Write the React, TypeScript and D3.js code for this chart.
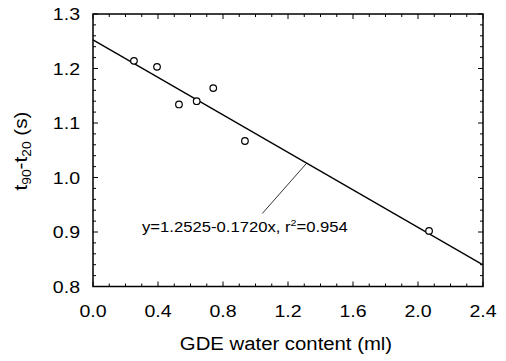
import React from "react";
import * as d3 from "d3";

const xValues = [0.252, 0.394, 0.529, 0.638, 0.740, 0.935, 2.068];
const yValues = [1.214, 1.203, 1.134, 1.140, 1.164, 1.067, 0.902];
const xTicks = [0.0, 0.4, 0.8, 1.2, 1.6, 2.0, 2.4];
const yTicks = [0.8, 0.9, 1.0, 1.1, 1.2, 1.3];
const fitIntercept = 1.2525;
const fitSlope = -0.172;
const leaderX = [1.315, 1.042];
const leaderY = [1.2525 - 0.172 * 1.315, 0.934];

const W = 506;
const H = 361;
const FONT = "'Liberation Sans', Arial, Helvetica, sans-serif";

function SText(props: {
  x: number; y: number; sx?: number; size: number; anchor?: string; rotate?: number; children: React.ReactNode;
}) {
  const { x, y, sx = 1.15, size, anchor = "start", rotate = 0, children } = props;
  return (
    <text
      transform={`translate(${x},${y}) rotate(${rotate}) scale(${sx},1)`}
      fontSize={size}
      fontFamily={FONT}
      textAnchor={anchor}
      fill="#000"
    >
      {children}
    </text>
  );
}

export default function App() {
  const x = d3.scaleLinear().domain([0, 2.4]).range([93, 483]);
  const y = d3.scaleLinear().domain([0.8, 1.3]).range([286.5, 14]);

  const xMinor = d3.range(0, 2.4001, 0.1);
  const yMinor = d3.range(0.8, 1.3001, 0.02);
  const isMajor = (v: number, step: number) => Math.abs(v / step - Math.round(v / step)) < 1e-6;

  const fitLine = d3.line<number>().x((d) => x(d)).y((d) => y(fitIntercept + fitSlope * d));
  const [x0, x1] = x.range();
  const [y0, y1] = y.range();

  return (
    <svg width={W} height={H} style={{ position: "absolute", left: 0, top: 0, background: "#fff" }}>
      <rect x={0} y={0} width={W} height={H} fill="#fff" />
      {/* ticks */}
      {xMinor.map((v, i) => {
        const len = isMajor(v, 0.4) ? 5 : 3;
        return (
          <g key={"xt" + i} stroke="#000" strokeWidth={1}>
            <line x1={x(v)} x2={x(v)} y1={y0} y2={y0 - len} />
            <line x1={x(v)} x2={x(v)} y1={y1} y2={y1 + len} />
          </g>
        );
      })}
      {yMinor.map((v, i) => {
        const len = isMajor(v, 0.1) ? 5 : 3;
        return (
          <g key={"yt" + i} stroke="#000" strokeWidth={1}>
            <line x1={x0} x2={x0 + len} y1={y(v)} y2={y(v)} />
            <line x1={x1} x2={x1 - len} y1={y(v)} y2={y(v)} />
          </g>
        );
      })}
      {/* frame */}
      <rect x={x0} y={y1} width={x1 - x0} height={y0 - y1} fill="none" stroke="#000" strokeWidth={1.5} />
      {/* fit line */}
      <path d={fitLine([0, 2.4]) || ""} fill="none" stroke="#000" strokeWidth={1.3} />
      {/* leader */}
      <line x1={x(leaderX[0])} y1={y(leaderY[0])} x2={x(leaderX[1])} y2={y(leaderY[1])} stroke="#000" strokeWidth={0.8} />
      {/* points */}
      {xValues.map((v, i) => (
        <circle key={"p" + i} cx={x(v)} cy={y(yValues[i])} r={3.3} fill="#fff" stroke="#000" strokeWidth={1.2} />
      ))}
      {/* tick labels */}
      {xTicks.map((v, i) => (
        <SText key={"xl" + i} x={x(v)} y={316.5} size={17} anchor="middle">
          {v.toFixed(1)}
        </SText>
      ))}
      {yTicks.map((v, i) => (
        <SText key={"yl" + i} x={80} y={y(v) + 6} size={17} anchor="end">
          {v.toFixed(1)}
        </SText>
      ))}
      {/* axis titles */}
      <SText x={286} y={350} size={18} anchor="middle" sx={1.13}>
        GDE water content (ml)
      </SText>
      <SText x={27} y={151} size={18} anchor="middle" rotate={-90} sx={1.15}>
        t<tspan fontSize={12} dy={4}>90</tspan>
        <tspan dy={-4}>-t</tspan>
        <tspan fontSize={12} dy={4}>20</tspan>
        <tspan dy={-4}> (s)</tspan>
      </SText>
      {/* annotation */}
      <SText x={142} y={232} size={14} sx={1.19}>
        y=1.2525-0.1720x, r<tspan fontSize={9} dy={-6}>2</tspan>
        <tspan dy={6}>=0.954</tspan>
      </SText>
    </svg>
  );
}
